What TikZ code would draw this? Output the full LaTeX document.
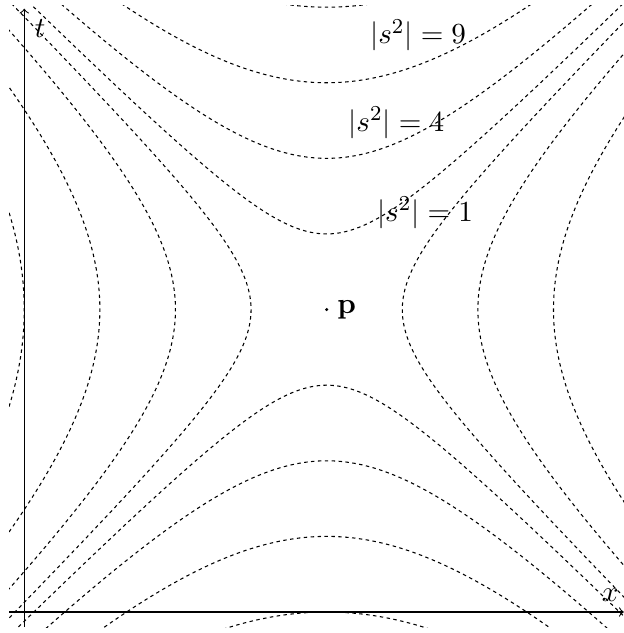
\documentclass[tikz,border=0pt]{standalone}
\begin{document}
\begin{tikzpicture}[hyp/.style={dash pattern=on 1.3pt off 1.3pt},
  lbl/.style={font=\fontsize{11}{13}\selectfont}]
\useasboundingbox (-0.321,-0.278) rectangle (7.93,8.095);
% hyperbolae |s^2| = a^2 around p
\begin{scope}
\clip (-0.2,-0.2) rectangle (7.93,8.02);
\foreach \a in {1,2,3,4} {
  \draw[hyp] plot[domain=-4.6:4.6,samples=90,smooth] ({4+\x},{4+sqrt(\a*\a+\x*\x)});
  \draw[hyp] plot[domain=-4.6:4.6,samples=90,smooth] ({4+\x},{4-sqrt(\a*\a+\x*\x)});
  \draw[hyp] plot[domain=-4.6:4.6,samples=90,smooth] ({4+sqrt(\a*\a+\x*\x)},{4+\x});
  \draw[hyp] plot[domain=-4.6:4.6,samples=90,smooth] ({4-sqrt(\a*\a+\x*\x)},{4+\x});
}
\end{scope}
% axes
\coordinate (x0) at (-0.2,0); \coordinate (x1) at (7.93,0);
\coordinate (t0) at (0,-0.2); \coordinate (t1) at (0,7.98);
\draw[->] (x0) -- (x1);
\draw[->] (t0) -- (t1);
\node[lbl] (xlab) at (7.75,0.22) {$x$};
\node[lbl] (tlab) at (0.21,7.72) {$t$};
% the event p
\fill (4,4) circle (0.022);
\node[lbl] (pt) at (4.265,3.99) {$\mathbf{p}$};
\node[lbl] (lab9) at (5.21,7.63) {$|s^2| = 9$};
\node[lbl] (lab4) at (4.92,6.47) {$|s^2| = 4$};
\node[lbl] (lab1) at (5.30,5.28) {$|s^2| = 1$};
\end{tikzpicture}
\end{document}
